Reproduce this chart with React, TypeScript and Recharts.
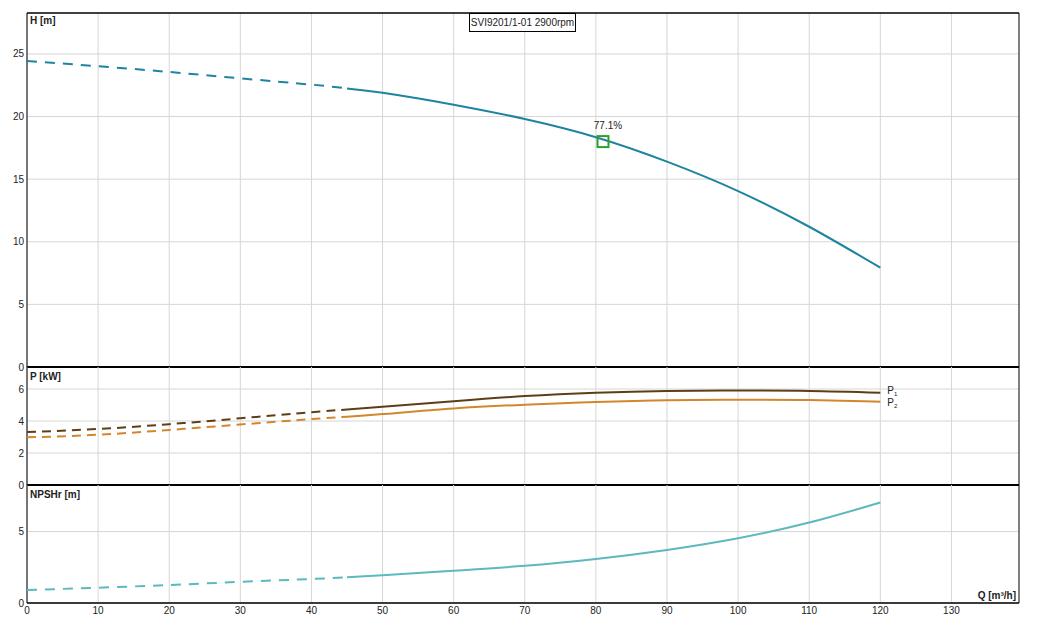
import React from 'react';
import {
  ComposedChart,
  Line,
  Scatter,
  XAxis,
  YAxis,
  CartesianGrid,
  ReferenceLine,
  LabelList,
} from 'recharts';

// Pump curve readings (flow Q in m³/h)
const flowQ = [0, 10, 20, 30, 40, 45, 50, 60, 70, 80, 90, 100, 110, 120];
const headH = [24.44, 24.02, 23.56, 23.05, 22.55, 22.25, 21.9, 20.95, 19.8, 18.35, 16.4, 14.05, 11.2, 7.93];
const powerP1 = [3.31, 3.5, 3.8, 4.17, 4.55, 4.72, 4.89, 5.24, 5.56, 5.77, 5.88, 5.9, 5.88, 5.77];
const powerP2 = [2.98, 3.14, 3.44, 3.78, 4.12, 4.27, 4.43, 4.78, 5.02, 5.19, 5.29, 5.33, 5.31, 5.21];
const npshR = [0.91, 1.07, 1.26, 1.48, 1.68, 1.8, 1.94, 2.26, 2.6, 3.08, 3.71, 4.53, 5.63, 7.03];

// duty point
const dutyQ = [81];
const dutyH = [18.0];
const dutyEta = ['77.1%'];

const qTicks = [0, 10, 20, 30, 40, 50, 60, 70, 80, 90, 100, 110, 120, 130];
const hTicks = [0, 5, 10, 15, 20, 25];
const pTicks = [0, 2, 4, 6];
const npshTicks = [0, 5];

const SPLIT_Q = 45; // dashed below this flow
const Q_MAX = 139.5;

const W = 1046;
const AXIS_W = 27;
const RIGHT = 27;
const PAD = 10;
const FONT = '"Liberation Sans", Arial, sans-serif';

const COL_H = '#1e84a0';
const COL_P1 = '#5e3e16';
const COL_P2 = '#d4862c';
const COL_NPSH = '#5cb9bd';
const GRID = '#d6d6d6';

function splitSeries(values: number[]) {
  const rows = flowQ.map((q, i) => ({ q, v: values[i] }));
  return {
    dashed: rows.filter((r) => r.q <= SPLIT_Q),
    solid: rows.filter((r) => r.q >= SPLIT_Q),
  };
}

const hSeries = splitSeries(headH);
const p1Series = splitSeries(powerP1);
const p2Series = splitSeries(powerP2);
const npshSeries = splitSeries(npshR);
const dutyData = dutyQ.map((q, i) => ({ q, v: dutyH[i], eta: dutyEta[i] }));

const tickStyle = { fill: '#222', fontSize: 10, fontFamily: FONT };

const endLabel = (name: string, sub: string, last: number, dy: number) => (props: any) => {
  if (props.index !== last) return null;
  return (
    <text x={props.x + 7} y={props.y + dy} fontSize={10} fontFamily={FONT} fill="#222">
      {name}
      <tspan fontSize={6} dy={2}>
        {sub}
      </tspan>
    </text>
  );
};

const dutyShape = (props: any) => (
  <rect x={props.cx - 5.5} y={props.cy - 5.5} width={11} height={11} fill="none" stroke="#2ca02c" strokeWidth={2} />
);

const dutyLabel = (props: any) => (
  <text x={props.x + props.width / 2 + 5} y={props.y - 8} textAnchor="middle" fontSize={10} fontFamily={FONT} fill="#222">
    {props.value}
  </text>
);

function Panel({
  top,
  bottom,
  yMax,
  ticks,
  showX,
  children,
}: {
  top: number;
  bottom: number;
  yMax: number;
  ticks: number[];
  showX?: boolean;
  children: React.ReactNode;
}) {
  const xH = showX ? 28 : 0;
  const height = bottom - top + PAD + (showX ? xH : PAD);
  return (
    <div style={{ position: 'absolute', left: 0, top: top - PAD }}>
      <ComposedChart
        width={W}
        height={height}
        margin={{ top: PAD, right: RIGHT, bottom: showX ? 0 : PAD, left: 0 }}
      >
        <CartesianGrid stroke={GRID} horizontalValues={ticks} verticalValues={qTicks} />
        <XAxis
          type="number"
          dataKey="q"
          domain={[0, Q_MAX]}
          ticks={qTicks}
          allowDataOverflow
          hide={!showX}
          height={xH}
          axisLine={false}
          tickLine={false}
          tickSize={2}
          tick={tickStyle}
        />
        <YAxis
          type="number"
          dataKey="v"
          domain={[0, yMax]}
          ticks={ticks}
          allowDataOverflow
          width={AXIS_W}
          axisLine={false}
          tickLine={false}
          tickSize={3}
          tickMargin={0}
          tick={tickStyle}
        />
        <ReferenceLine x={0} stroke="#000" strokeWidth={1} />
        <ReferenceLine x={Q_MAX} stroke="#000" strokeWidth={1} />
        <ReferenceLine y={0} stroke="#000" strokeWidth={showX ? 1.5 : 2.2} />
        {children}
      </ComposedChart>
    </div>
  );
}

const axisTitle = (text: string, left: number, top: number, align: 'left' | 'right' = 'left') => (
  <div
    style={{
      position: 'absolute',
      left: align === 'left' ? left : undefined,
      right: align === 'right' ? W - left : undefined,
      top,
      fontFamily: FONT,
      fontSize: 10,
      fontWeight: 'bold',
      color: '#222',
      lineHeight: '12px',
      whiteSpace: 'nowrap',
    }}
  >
    {text}
  </div>
);

export default function App() {
  return (
    <div style={{ position: 'absolute', left: 0, top: 0, width: W, height: 632, background: '#fff' }}>
      <Panel top={13} bottom={367} yMax={28.27} ticks={hTicks}>
        <ReferenceLine y={28.27} stroke="#000" strokeWidth={1.5} />
        <Line data={hSeries.dashed} dataKey="v" type="natural" stroke={COL_H} strokeWidth={2} strokeDasharray="10 8" dot={false} isAnimationActive={false} />
        <Line data={hSeries.solid} dataKey="v" type="natural" stroke={COL_H} strokeWidth={2} dot={false} isAnimationActive={false} />
        <Scatter data={dutyData} dataKey="v" shape={dutyShape} isAnimationActive={false}>
          <LabelList dataKey="eta" content={dutyLabel} />
        </Scatter>
      </Panel>

      <Panel top={367} bottom={485} yMax={7.375} ticks={pTicks}>
        <Line data={p1Series.dashed} dataKey="v" type="natural" stroke={COL_P1} strokeWidth={2} strokeDasharray="9 6" dot={false} isAnimationActive={false} />
        <Line data={p1Series.solid} dataKey="v" type="natural" stroke={COL_P1} strokeWidth={2} dot={false} isAnimationActive={false}>
          <LabelList dataKey="v" content={endLabel('P', '1', p1Series.solid.length - 1, 1.5)} />
        </Line>
        <Line data={p2Series.dashed} dataKey="v" type="natural" stroke={COL_P2} strokeWidth={2} strokeDasharray="9 6" dot={false} isAnimationActive={false} />
        <Line data={p2Series.solid} dataKey="v" type="natural" stroke={COL_P2} strokeWidth={2} dot={false} isAnimationActive={false}>
          <LabelList dataKey="v" content={endLabel('P', '2', p2Series.solid.length - 1, 4.5)} />
        </Line>
      </Panel>

      <Panel top={485} bottom={603} yMax={8.26} ticks={npshTicks} showX>
        <Line data={npshSeries.dashed} dataKey="v" type="natural" stroke={COL_NPSH} strokeWidth={2} strokeDasharray="10 8" dot={false} isAnimationActive={false} />
        <Line data={npshSeries.solid} dataKey="v" type="natural" stroke={COL_NPSH} strokeWidth={2} dot={false} isAnimationActive={false} />
      </Panel>

      {axisTitle('H [m]', 30, 15)}
      {axisTitle('P [kW]', 30, 371)}
      {axisTitle('NPSHr [m]', 30, 489)}
      {axisTitle('Q [m³/h]', 1016, 590, 'right')}

      <div
        style={{
          position: 'absolute',
          left: 469,
          top: 13,
          width: 107,
          height: 19,
          boxSizing: 'border-box',
          border: '1px solid #000',
          background: '#fff',
          fontFamily: FONT,
          fontSize: 10,
          color: '#222',
          textAlign: 'center',
          lineHeight: '17px',
          whiteSpace: 'nowrap',
        }}
      >
        SVI9201/1-01 2900rpm
      </div>
    </div>
  );
}
